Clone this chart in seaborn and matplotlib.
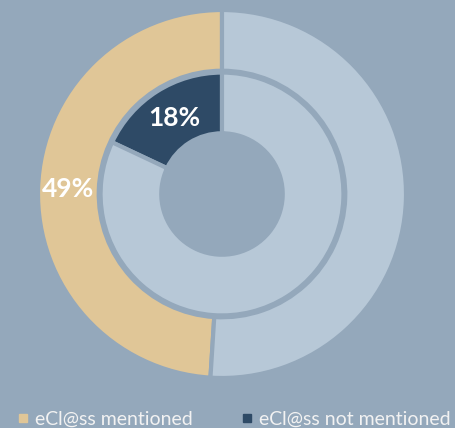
import matplotlib.pyplot as plt
import seaborn as sns
from matplotlib.lines import Line2D

# Data
outer_labels = ["eCl@ss mentioned", "other"]
outer_values = [49, 51]
inner_labels = ["eCl@ss not mentioned", "other"]
inner_values = [18, 82]

bg = "#94a8bb"
tan = "#e0c697"
light = "#b7c8d7"
navy = "#2e4a66"

sns.set_theme(style="white")
plt.rcParams["font.family"] = ["Lato", "DejaVu Sans"]

fig = plt.figure(figsize=(4.55, 4.28), dpi=100, facecolor=bg)
ax = fig.add_axes([(222 - 184) / 455, (428 - 194 - 184) / 428, 368 / 455, 368 / 428])
ax.set_facecolor(bg)


def only_first(values):
    def fmt(pct):
        return f"{pct:.0f}%" if abs(pct - values[0]) < 0.5 else ""
    return fmt


# Outer ring
w1, t1, a1 = ax.pie(outer_values, radius=1.0, startangle=90, counterclock=True,
                    colors=[tan, light], autopct=only_first(outer_values), pctdistance=0.835,
                    wedgeprops=dict(width=0.33, edgecolor=bg, linewidth=3),
                    textprops=dict(color="white", fontsize=19, fontweight="bold"))

# Inner ring
w2, t2, a2 = ax.pie(inner_values, radius=0.66, startangle=90, counterclock=True,
                    colors=[navy, light], autopct=only_first(inner_values), pctdistance=0.74,
                    wedgeprops=dict(width=0.33, edgecolor=bg, linewidth=3),
                    textprops=dict(color="white", fontsize=19, fontweight="bold"))

ax.set_xlim(-1, 1)
ax.set_ylim(-1, 1)
ax.axis("off")

handles = [Line2D([], [], marker="s", linestyle="none", markersize=6, color=tan),
           Line2D([], [], marker="s", linestyle="none", markersize=6, color=navy)]
fig.legend(handles, [outer_labels[0], inner_labels[0]], loc="lower center", ncol=2,
           frameon=False, fontsize=14, labelcolor="#f2f2f2", handletextpad=0.1,
           handlelength=1.0, columnspacing=2.3, bbox_to_anchor=(0.51, -0.04))

fig.savefig("out.png", dpi=100, facecolor=bg)
